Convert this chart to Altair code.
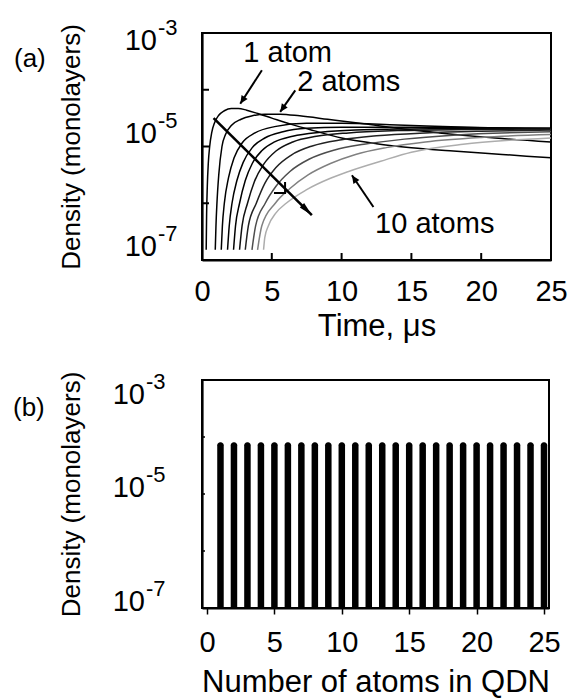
import altair as alt
import pandas as pd

FONT = "Liberation Sans"

# ---------------- panel (a): density vs time, one curve per critical size ----------------
curve_ids = [1, 2, 3, 4, 5, 6, 7, 8, 9, 10]
curve_colors = ["#000000", "#000000", "#000000", "#000000", "#000000",
                "#111111", "#222222", "#4d4d4d", "#808080", "#adadad"]

# time in microseconds, density given as log10(monolayers)
c1_time = [0.30, 0.33, 0.38, 0.45, 0.55, 0.70, 0.90, 1.20, 1.60, 2.10, 2.60, 3.20, 4.00,
           5.00, 6.40, 8.00, 10.0, 12.5, 15.0, 18.0, 21.5, 25.0]
c1_logd = [-6.82, -6.20, -5.70, -5.30, -5.00, -4.75, -4.58, -4.45, -4.37, -4.33, -4.33, -4.36,
           -4.42, -4.50, -4.61, -4.72, -4.85, -4.95, -5.02, -5.08, -5.14, -5.20]
c2_time = [0.95, 1.00, 1.07, 1.20, 1.43, 1.70, 2.10, 2.80, 3.60, 4.50, 5.60, 7.0, 9.0, 11.6,
           14.0, 17.0, 21.0, 25.0]
c2_logd = [-6.82, -6.40, -6.00, -5.50, -5.00, -4.78, -4.63, -4.52, -4.46, -4.43, -4.43, -4.46,
           -4.52, -4.60, -4.68, -4.76, -4.85, -4.92]
c3_time = [1.38, 1.46, 1.60, 1.90, 2.30, 2.90, 3.80, 5.20, 7.50, 10.0, 14.0, 19.0, 25.0]
c3_logd = [-6.82, -6.40, -6.00, -5.55, -5.20, -4.93, -4.76, -4.65, -4.59, -4.59, -4.62, -4.66, -4.70]
c4_time = [1.83, 1.95, 2.15, 2.50, 2.95, 3.60, 4.50, 5.80, 7.50, 10.0, 15.0, 20.0, 25.0]
c4_logd = [-6.82, -6.40, -6.00, -5.60, -5.28, -5.02, -4.85, -4.74, -4.68, -4.66, -4.66, -4.67, -4.68]
c5_time = [2.26, 2.40, 2.69, 3.10, 3.60, 4.30, 5.20, 6.50, 8.50, 11.0, 15.0, 20.0, 25.0]
c5_logd = [-6.82, -6.40, -6.00, -5.60, -5.30, -5.07, -4.92, -4.82, -4.75, -4.71, -4.69, -4.68, -4.68]
c6_time = [2.69, 2.87, 3.26, 3.75, 4.40, 5.30, 6.50, 8.20, 10.5, 14.0, 19.0, 25.0]
c6_logd = [-6.82, -6.40, -6.00, -5.62, -5.32, -5.08, -4.92, -4.82, -4.76, -4.72, -4.70, -4.69]
c7_time = [3.10, 3.32, 3.89, 4.50, 5.30, 6.40, 7.90, 10.0, 12.5, 16.0, 20.0, 25.0]
c7_logd = [-6.82, -6.40, -6.00, -5.65, -5.37, -5.15, -4.99, -4.88, -4.81, -4.76, -4.73, -4.71]
c8_time = [3.58, 3.84, 4.53, 5.30, 6.30, 7.70, 9.50, 11.6, 14.5, 18.0, 25.0]
c8_logd = [-6.82, -6.40, -6.00, -5.70, -5.44, -5.22, -5.06, -4.96, -4.87, -4.80, -4.74]
c9_time = [3.98, 4.28, 5.25, 6.30, 7.60, 9.20, 11.0, 13.2, 16.0, 20.0, 25.0]
c9_logd = [-6.82, -6.40, -6.00, -5.74, -5.50, -5.30, -5.14, -5.02, -4.92, -4.84, -4.79]
c10_time = [4.41, 4.50, 4.75, 5.30, 6.03, 7.50, 9.20, 10.5, 12.8, 15.0, 18.7, 22.0, 25.0]
c10_logd = [-6.82, -6.60, -6.40, -6.17, -6.00, -5.76, -5.56, -5.44, -5.26, -5.10, -4.96, -4.89, -4.85]

curve_times = [c1_time, c2_time, c3_time, c4_time, c5_time, c6_time, c7_time, c8_time, c9_time, c10_time]
curve_logds = [c1_logd, c2_logd, c3_logd, c4_logd, c5_logd, c6_logd, c7_logd, c8_logd, c9_logd, c10_logd]

# annotations (data units: time, log10 density)
note_text = ["1 atom", "2 atoms", "10 atoms"]
note_time = [2.96, 6.82, 12.4]
note_logd = [-3.35, -3.87, -6.36]

arrow_id = ["a1", "a1", "a2", "a2", "a10", "a10"]
arrow_time = [4.29, 2.74, 6.68, 5.60, 12.28, 10.74]
arrow_logd = [-3.657, -4.246, -4.01, -4.39, -6.066, -5.507]
head_time = [2.74, 5.60, 10.74]
head_logd = [-4.246, -4.39, -5.507]
head_angle = [213, 215, 326]

big_time = [0.83, 7.87]
big_logd = [-4.50, -6.21]
chevron_time = [5.95]
chevron_logd = [-5.82]
big_angle = [135]

# ---------------- panel (b): density vs number of atoms ----------------
atoms_n = [1, 2, 3, 4, 5, 6, 7, 8, 9, 10, 11, 12, 13, 14, 15, 16, 17, 18, 19, 20, 21, 22, 23, 24, 25]
atoms_density = [8.1e-5, 8.1e-5, 8.1e-5, 8.1e-5, 8.1e-5, 8.1e-5, 8.1e-5, 8.1e-5, 8.1e-5, 8.1e-5,
                 8.1e-5, 8.1e-5, 8.1e-5, 8.1e-5, 8.1e-5, 8.1e-5, 8.1e-5, 8.1e-5, 8.1e-5, 8.1e-5,
                 8.1e-5, 8.1e-5, 8.1e-5, 8.1e-5, 8.1e-5]

# axis texts
x_ticks = [0, 5, 10, 15, 20, 25]
inner_x_ticks = [5, 10, 15, 20]
inner_y_ticks = [1e-4, 1e-5, 1e-6]
ylabel_values = [1e-3, 1e-5, 1e-7]
ylabel_base = ["10", "10", "10"]
ylabel_exp = ["-3", "-5", "-7"]
ylabel_top = [True, False, False]

# ---------------- build tables ----------------
rows = []
for cid, ts, ls in zip(curve_ids, curve_times, curve_logds):
    for t, l in zip(ts, ls):
        rows.append({"curve": cid, "t": t, "density": 10 ** l})
df_curves = pd.DataFrame(rows)

df_notes = pd.DataFrame({"txt": note_text, "t": note_time, "density": [10 ** v for v in note_logd]})
df_arrows = pd.DataFrame({"id": arrow_id, "t": arrow_time, "density": [10 ** v for v in arrow_logd]})
df_heads = pd.DataFrame({"t": head_time, "density": [10 ** v for v in head_logd], "angle": head_angle})
df_big = pd.DataFrame({"t": big_time, "density": [10 ** v for v in big_logd]})
df_big_tip = pd.DataFrame({"t": big_time[1:], "density": [10 ** v for v in big_logd[1:]], "angle": big_angle})
df_chev = pd.DataFrame({"t": chevron_time, "density": [10 ** v for v in chevron_logd], "angle": big_angle})
df_bars = pd.DataFrame({"t": atoms_n, "density": atoms_density})
df_ylab = pd.DataFrame({"density": ylabel_values, "base": ylabel_base, "exp": ylabel_exp, "top": ylabel_top})

y_scale = alt.Scale(type="log", domain=[1e-7, 1e-3], nice=False)
x_scale = alt.Scale(domain=[0, 25], nice=False, zero=False)

WA, HA = 349, 227
WB, HB = 347, 228


def x_axis(title, ticks, label_pad, title_pad):
    return alt.Axis(title=title, values=x_ticks, format="d", grid=False, labelFlush=False,
                    ticks=ticks, tickSize=6, tickWidth=1.5, tickColor="black",
                    labelFontSize=29, labelPadding=label_pad, labelColor="black",
                    titleFontSize=31, titlePadding=title_pad, titleColor="black",
                    titleFontWeight="normal", domainColor="black", domainWidth=2.2)


Y_AXIS = alt.Axis(title="Density (monolayers)", labels=False, ticks=False, grid=False,
                  titleFontSize=26, titlePadding=118, titleColor="black",
                  titleFontWeight="normal", domainColor="black", domainWidth=2.2)
XA_AXIS = x_axis("Time, μs", False, 17, 5)
XB_AXIS = x_axis("Number of atoms in QDN", True, 14, 10)


def X(ax):
    return alt.X("t:Q", scale=x_scale, axis=ax)


def Y():
    return alt.Y("density:Q", scale=y_scale, axis=Y_AXIS)


def y_labels(xpos, dy_top, dy_rest):
    layers = []
    for flag, dy in ((True, dy_top), (False, dy_rest)):
        cond = "datum.top" if flag else "!datum.top"
        base = alt.Chart(df_ylab).transform_filter(cond)
        layers.append(base.mark_text(align="right", baseline="middle", fontSize=29, font=FONT,
                                     color="black", dy=dy).encode(
            y=Y(), x=alt.value(xpos), text="base:N"))
        layers.append(base.mark_text(align="left", baseline="middle", fontSize=22, font=FONT,
                                     color="black", dy=dy - 13).encode(
            y=Y(), x=alt.value(xpos + 1), text="exp:N"))
    return layers


# ---------------- panel (a) layers ----------------
lines = alt.Chart(df_curves).mark_line(strokeWidth=1.5, interpolate="monotone").encode(
    x=X(XA_AXIS), y=Y(),
    color=alt.Color("curve:N", scale=alt.Scale(domain=curve_ids, range=curve_colors), legend=None),
    order=alt.Order("t:Q"),
)

a_xticks = alt.Chart(pd.DataFrame({"t": inner_x_ticks})).mark_rule(color="black", strokeWidth=2).encode(
    x=X(XA_AXIS), y=alt.value(HA), y2=alt.value(HA - 7))
a_yticks = alt.Chart(pd.DataFrame({"density": inner_y_ticks})).mark_rule(color="black", strokeWidth=2).encode(
    y=Y(), x=alt.value(0), x2=alt.value(7))

arrows = alt.Chart(df_arrows).mark_line(color="black", strokeWidth=2).encode(
    x=X(XA_AXIS), y=Y(), detail="id:N")
heads = alt.Chart(df_heads).mark_point(shape="M0,0L-0.45,1L0.45,1Z", filled=True, color="black",
                                       opacity=1, size=256).encode(
    x=X(XA_AXIS), y=Y(), angle=alt.Angle("angle:Q", scale=None))
big_shaft = alt.Chart(df_big).mark_line(color="black", strokeWidth=2.6).encode(x=X(XA_AXIS), y=Y())
big_tip = alt.Chart(df_big_tip).mark_point(shape="M0,0L-0.22,1L0.22,1Z", filled=True, color="black",
                                           opacity=1, size=784).encode(
    x=X(XA_AXIS), y=Y(), angle=alt.Angle("angle:Q", scale=None))
chevron = alt.Chart(df_chev).mark_point(shape="M-0.7,0.7L0,0L0.7,0.7", filled=False, color="black",
                                        opacity=1, strokeWidth=2, size=500).encode(
    x=X(XA_AXIS), y=Y(), angle=alt.Angle("angle:Q", scale=None))
notes = alt.Chart(df_notes).mark_text(align="left", baseline="middle", fontSize=29, font=FONT,
                                      color="black").encode(x=X(XA_AXIS), y=Y(), text="txt:N")
tag_a = alt.Chart(pd.DataFrame({"lab": ["(a)"]})).mark_text(
    align="left", baseline="middle", fontSize=26, font=FONT, color="black").encode(
    x=alt.value(-188), y=alt.value(26), text="lab:N")

panel_a = alt.layer(lines, a_xticks, a_yticks, big_shaft, big_tip, chevron, arrows, heads, notes,
                    *y_labels(-45, 8, -13), tag_a).properties(width=WA, height=HA)

# ---------------- panel (b) layers ----------------
bars = alt.Chart(df_bars).mark_bar(width=6.5, color="black", cornerRadiusTopLeft=3,
                                   cornerRadiusTopRight=3).encode(
    x=X(XB_AXIS), y=Y(), y2=alt.datum(1e-7))
b_yticks = alt.Chart(pd.DataFrame({"density": inner_y_ticks})).mark_rule(color="black", strokeWidth=1.5).encode(
    y=Y(), x=alt.value(0), x2=alt.value(3))
tag_b = alt.Chart(pd.DataFrame({"lab": ["(b)"]})).mark_text(
    align="left", baseline="middle", fontSize=26, font=FONT, color="black").encode(
    x=alt.value(-189), y=alt.value(28), text="lab:N")

panel_b = alt.layer(bars, b_yticks, *y_labels(-57, 15, -6), tag_b).properties(width=WB, height=HB)

chart = alt.vconcat(panel_a, panel_b, spacing=28).properties(
    padding={"left": 12, "top": 16, "right": 0, "bottom": 0},
    background="white",
).configure_view(stroke="black", strokeWidth=2).configure_axis(
    labelFont=FONT, titleFont=FONT)

chart.save("out.html", embed_options={"renderer": "svg", "actions": False})
